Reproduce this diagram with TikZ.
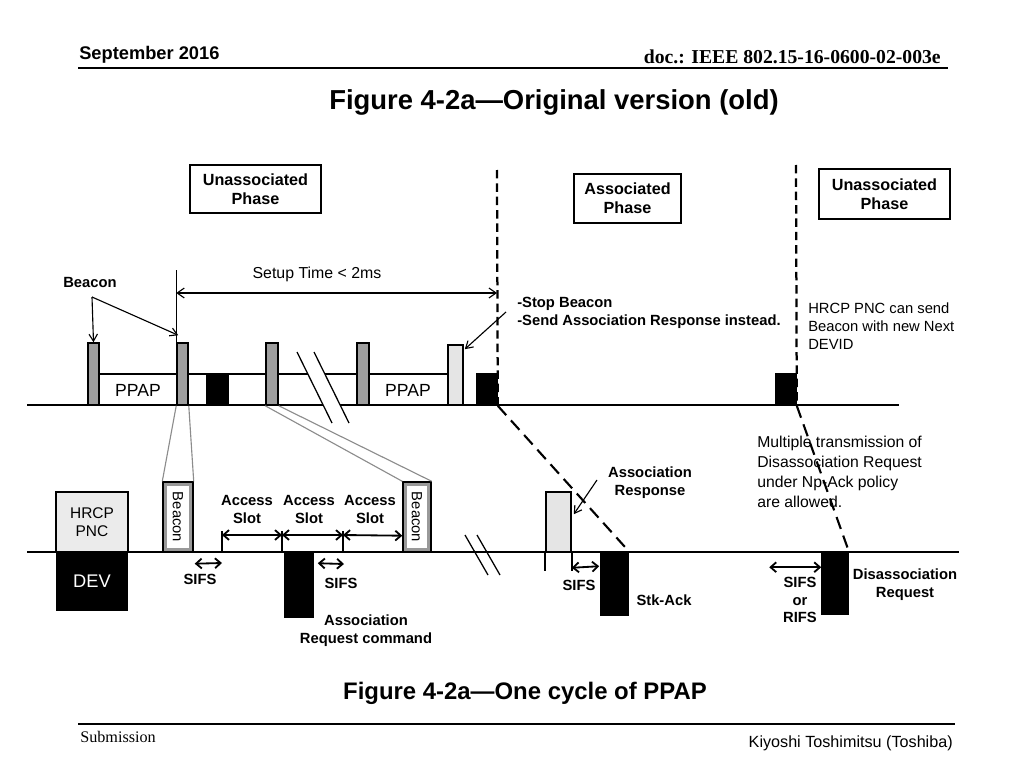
\documentclass[tikz,border=0pt]{standalone}
\usepackage{fontspec}
\setmainfont{Liberation Sans}
\newfontfamily\docserif{Liberation Serif}
\usepackage{tikz}
\usetikzlibrary{arrows.meta, positioning, calc, fit}

\begin{document}
\begin{tikzpicture}[
    x=0.025cm, y=-0.025cm,
    every node/.style={inner sep=0pt},
    lbl/.style={font=\fontsize{10.5}{12.6}\selectfont\bfseries, align=center},
    note/.style={font=\fontsize{10.5}{12.8}\selectfont, align=left},
    phase/.style={draw, line width=1.3pt},
    phasetxt/.style={font=\fontsize{11.5}{13.5}\selectfont\bfseries, align=center},
    gbar/.style={draw, line width=1.1pt, fill=black!38},
    dbar/.style={draw, line width=1.1pt, fill=black!10},
    kbar/.style={draw, line width=1.1pt, fill=black},
    lbcn/.style={draw, line width=1pt, fill=black!40},
    axis/.style={line width=1.3pt},
    phaseln/.style={line width=1.6pt, dash pattern=on 6pt off 3.5pt},
    diagln/.style={line width=1.5pt, dash pattern=on 9pt off 5pt},
    ptr/.style={-{Straight Barb[length=5pt,width=6pt]}, line width=0.8pt},
    dimln/.style={{Straight Barb[length=5pt,width=7pt]}-{Straight Barb[length=5pt,width=7pt]}, line width=0.8pt},
    slot/.style={{Straight Barb[length=4pt,width=7pt]}-{Straight Barb[length=4pt,width=7pt]}, line width=1.3pt},
    zoomln/.style={black!45, line width=0.8pt},
    tick/.style={line width=1.1pt},
    brk/.style={line width=0.9pt}
  ]
  \useasboundingbox (0,0) rectangle (1024,768);

  % header / footer
  \node[anchor=base west, font=\fontsize{13}{15}\selectfont\bfseries] (month) at (79,60) {September 2016};
  \node[anchor=base east, font=\docserif\fontsize{14}{16}\selectfont\bfseries] (docid) at (941,64) {doc.: IEEE 802.15-16-0600-02-003e};
  \draw[line width=1pt] (78,68) -- (948,68);
  \node[anchor=base, font=\fontsize{19.5}{22}\selectfont\bfseries] (title) at (554,110) {Figure 4-2a—Original version (old)};
  \node[anchor=base, font=\fontsize{17}{20}\selectfont\bfseries] (caption) at (525,699) {Figure 4-2a—One cycle of PPAP};
  \draw[line width=1pt] (78,724) -- (955,724);
  \node[anchor=base west, font=\docserif\fontsize{11.5}{13}\selectfont] (subm) at (80,742) {Submission};
  \node[anchor=base east, font=\fontsize{11.5}{13}\selectfont] (author) at (953,747) {Kiyoshi Toshimitsu (Toshiba)};

  % phases
  \node[phase, fit={(190,165)(321,213)}] (unas1) {};
  \node[phase, fit={(574,174)(681,223)}] (assoc) {};
  \node[phase, fit={(819,169)(950,219)}] (unas2) {};
  \node[phasetxt] (unas1txt) at (unas1.center) {Unassociated\\Phase};
  \node[phasetxt] (assoctxt) at (assoc.center) {Associated\\Phase};
  \node[phasetxt] (unas2txt) at (unas2.center) {Unassociated\\Phase};
  \coordinate (ph1) at (497,170);
  \coordinate (ph2) at (796,165);

  % upper timeline
  \draw[axis] (27,405) -- (899,405);
  \draw[axis] (99,374) -- (448,374);
  \node[gbar, fit={(88,343)(99,405)}] (b1) {};
  \node[gbar, fit={(177,343)(188,405)}] (b2) {};
  \node[gbar, fit={(266,343)(278,405)}] (b3) {};
  \node[gbar, fit={(357,343)(369,405)}] (b4) {};
  \node[dbar, fit={(448,345)(463,405)}] (d1) {};
  \node[kbar, fit={(207,374)(228,405)}] (k1) {};
  \node[kbar, fit={(477,374)(497,405)}] (k2) {};
  \node[kbar, fit={(776,374)(796,405)}] (k3) {};
  \node[font=\fontsize{12.5}{14}\selectfont] (ppap1) at (138,390) {PPAP};
  \node[font=\fontsize{12.5}{14}\selectfont] (ppap2) at (408,390) {PPAP};
  \fill[white] (297,352) -- (314,352) -- (349,423) -- (332,423) -- cycle;
  \draw[brk] (297,352) -- (332,423);
  \draw[brk] (314,352) -- (349,423);

  \node[lbl] (bcnlbl) at (90,282) {Beacon};
  \coordinate (bfork) at (92,297);
  \draw[ptr] (bfork) -- (b1.north);
  \draw[ptr] (bfork) -- ($(b2.north west)+(2,-7)$);

  \node[font=\fontsize{11.3}{13}\selectfont, anchor=base] (setup) at (317,278) {Setup Time < 2ms};
  \draw[line width=0.6pt] (b2.north west) -- ++(0,-72);
  \draw[dimln] (b2.north west |- 0,293) -- (ph1 |- 0,293);

  \node[lbl, align=left, anchor=north west] (stop) at (517,297) {-Stop Beacon\\-Send Association Response instead.};
  \coordinate (stoptail) at (506,312);
  \draw[ptr] (stoptail) -- ($(d1.north east)+(1,5)$);
  \node[note, anchor=north west] (nextdev) at (808,303) {HRCP PNC can send\\Beacon with new Next\\DEVID};

  % lower timeline
  \draw[axis] (27,552) -- (959,552);
  \node[draw, line width=0.9pt, fill=black!8, fit={(56,492)(128,552)}] (pnc) {};
  \node[font=\fontsize{11}{13}\selectfont, align=center] (pnctxt) at (pnc.center) {HRCP\\PNC};
  \node[fill=black, fit={(56,552)(128,611)}] (dev) {};
  \node[text=white, font=\fontsize{13}{15}\selectfont] (devtxt) at (dev.center) {DEV};
  \node[lbcn, fit={(163,482)(193,552)}] (lb1) {};
  \node[lbcn, fit={(403,482)(431,552)}] (lb2) {};
  \foreach \b in {lb1,lb2} {
    \node[fill=white, fit={($(\b.south west)+(5,-5)$)($(\b.north east)+(-5,5)$)}] (\b in) {};
    \node[rotate=-90, font=\fontsize{10.5}{12}\selectfont] (\b txt) at (\b.center) {Beacon};
  }
  \draw[zoomln] (b2.south west) -- (lb1.north west);
  \draw[zoomln] (b2.south east) -- (lb1.north east);
  \draw[zoomln] (b3.south west) -- (lb2.north west);
  \draw[zoomln] (b3.south east) -- (lb2.north east);

  \coordinate (t1) at (222,552);
  \coordinate (t2) at (282,552);
  \coordinate (t3) at (343,552);
  \foreach \t in {t1,t2,t3}
    \draw[tick] (\t) -- ++(0,-21);
  \draw[slot] ($(t1)+(0,-17)$) -- ($(t2)+(0,-17)$);
  \draw[slot] ($(t2)+(0,-17)$) -- ($(t3)+(0,-17)$);
  \draw[slot] ($(t3)+(0,-17)$) -- ($(lb2.south west)+(0,-17)$);
  \node[lbl, anchor=south] (as1) at (247,524) {Access\\Slot};
  \node[lbl, anchor=south] (as2) at (309,524) {Access\\Slot};
  \node[lbl, anchor=south] (as3) at (370,524) {Access\\Slot};

  \node[kbar, fit={(285,552)(313,617)}] (req) {};
  \draw[slot] ($(lb1.south east)+(1,11)$) -- ($(t1)+(0,11)$);
  \node[lbl] (sifs1) at (200,579) {SIFS};
  \draw[slot] ($(req.north east)+(4,12)$) -- ($(t3)+(1,12)$);
  \node[lbl] (sifs2) at (341,583) {SIFS};
  \node[lbl, anchor=north] (reqlbl) at (366,615) {Association\\Request command};

  \draw[brk] (465,535) -- (488,575);
  \draw[brk] (477,535) -- (500,575);

  \node[dbar, fit={(546,492)(571,552)}] (ar) {};
  \node[kbar, fit={(601,552)(628,615)}] (ack) {};
  \draw[tick] (ar.south west) -- ++(0,18);
  \draw[tick] (ar.south east) -- ++(0,18);
  \draw[slot] ($(ar.south east)+(0,15)$) -- ($(ack.north west)+(-1,15)$);
  \node[lbl] (sifs3) at (579,585) {SIFS};
  \node[lbl] (acklbl) at (664,600) {Stk-Ack};
  \node[lbl, anchor=north] (arlbl) at (650,467) {Association\\Response};
  \coordinate (artail) at (597,480);
  \draw[ptr] (artail) -- ($(ar.north east)+(2,23)$);

  \node[kbar, fit={(822,552)(848,614)}] (dis) {};
  \draw[slot] ($(dis.north west)+(-52,16)$) -- ($(dis.north west)+(0,16)$);
  \node[lbl, anchor=north, font=\fontsize{10.5}{12.4}\selectfont\bfseries] (rifs) at (800,577) {SIFS\\or\\RIFS};
  \node[lbl, anchor=north] (dislbl) at (905,569) {Disassociation\\Request};
  \node[note, anchor=north west, font=\fontsize{11.2}{14.2}\selectfont] (multi) at (757,436) {Multiple transmission of\\Disassociation Request\\under Np-Ack policy\\are allowed.};

  % phase borders
  \draw[phaseln] (ph1) -- (k2.south east);
  \draw[phaseln] (ph2) -- (k3.south east);
  \draw[diagln] (k2.south east) -- (ack.north east);
  \draw[diagln] (k3.south east) -- (dis.north east);
\end{tikzpicture}
\end{document}
